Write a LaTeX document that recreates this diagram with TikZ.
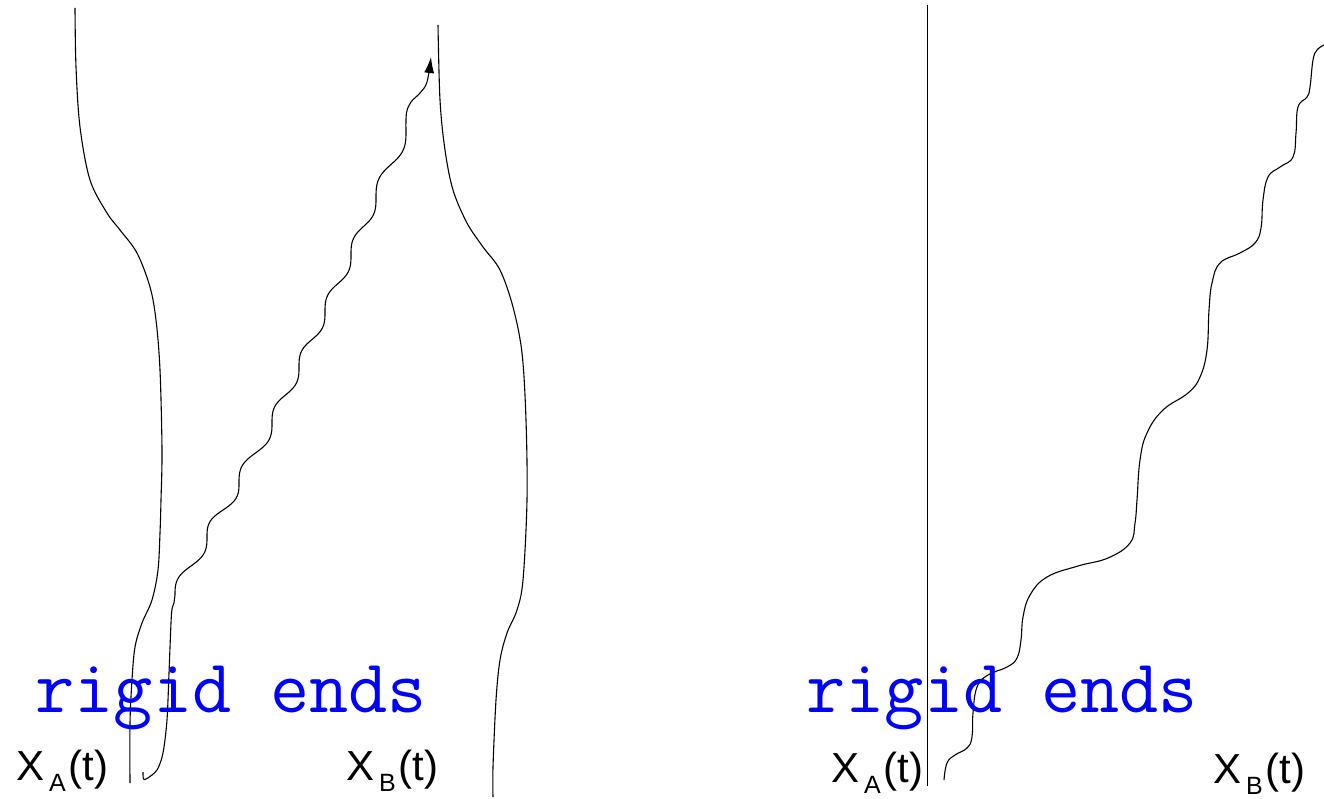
\documentclass[tikz,border=0pt]{standalone}
\usepackage{fontspec}
\setmainfont{Liberation Sans}
\usetikzlibrary{arrows.meta}
\definecolor{labelblue}{RGB}{0,0,255}
\tikzset{
  wline/.style={line width=1.1pt, black},
  bigmono/.style={inner sep=0pt, anchor=base west, text=labelblue, font=\ttfamily\fontsize{76}{76}\selectfont},
  poslabel/.style={inner sep=0pt, anchor=base west, font=\fontsize{42}{42}\selectfont},
}
\newcommand{\poslab}[1]{X\hspace{5pt}\raisebox{-11pt}{\fontsize{25}{25}\selectfont #1}\hspace{3pt}(t)}
% one step of the staircase signal between two vertical centres
\newcommand{\sstep}[4]{-- plot[domain=0:1,samples=28,variable=\u] ({#1+(#3-#1)*(\u-sin(360*\u)/6.2832)},{#2+(#4-#2)*(\u+0.2*sin(360*\u)/6.2832)})}
\begin{document}
\begin{tikzpicture}[x=1pt,y=-1pt]
\useasboundingbox (0,0) rectangle (1324,799);
% left panel: worldline A
\draw[wline] plot[smooth, tension=0.55] coordinates {(75,8) (76,67) (80,127) (90,180) (107,213) (120,230) (137,253) (150,287) (156,320) (160,370) (162,450) (161,500) (160,533) (158,570) (152,600) (142,623) (135,647) (132,680) (130,723) (130,783)};
% left panel: worldline B
\draw[wline] plot[smooth, tension=0.55] coordinates {(438,25) (440,100) (445,150) (453,190) (467,223) (483,247) (500,270) (513,307) (522,353) (526,420) (527,500) (523,580) (517,610) (507,633) (500,660) (496,700) (493,767) (493,797)};
% left panel: signal
\draw[wline, -{Latex[length=16pt,width=10pt]}]
  plot[smooth, tension=0.5] coordinates {(143,772) (143.5,779) (147,778.5) (157,770) (163,753) (167,720) (169,673) (171,623) (172,609) (174,603)}
  -- (175,595)
  \sstep{175}{595}{207}{537}
  \sstep{207}{537}{239}{483}
  \sstep{239}{483}{272}{423}
  \sstep{272}{423}{299}{367}
  \sstep{299}{367}{325}{312}
  \sstep{325}{312}{351}{255}
  \sstep{351}{255}{376}{198}
  \sstep{376}{198}{406}{131}
  -- plot[smooth, tension=0.6] coordinates {(406,131) (406.5,113) (411,102) (420,93) (427,82) (431,57)};
% right panel
\draw[wline, line width=1pt] (927,5) -- (927,786);
\draw[wline] plot[smooth, tension=0.7] coordinates {(944,780) (947,763) (955,755) (967,748) (972,737) (973,713) (977,687) (988,675) (1007,667) (1017,658) (1021,640) (1023,617) (1030,595) (1047,577) (1078,566) (1108,558) (1130,543) (1135,523) (1137,500) (1140,460) (1147,433) (1163,410) (1188,393) (1200,377) (1207,350) (1209,310) (1212,283) (1220,263) (1240,253) (1255,243) (1261,228) (1263,200) (1268,177) (1280,167) (1293,157) (1296,133) (1298,107) (1307,97) (1310,87) (1313,60) (1317,50) (1324,45)};
% labels
\node[bigmono] (rigidL) at (35.5,712) {rigid ends};
\node[bigmono] (rigidR) at (806.5,712) {rigid ends};
\node[poslabel] (xaL) at (16,780) {\poslab{A}};
\node[poslabel] (xbL) at (346,780) {\poslab{B}};
\node[poslabel] (xaR) at (831,782) {\poslab{A}};
\node[poslabel] (xbR) at (1213,783) {\poslab{B}};
\end{tikzpicture}
\end{document}
